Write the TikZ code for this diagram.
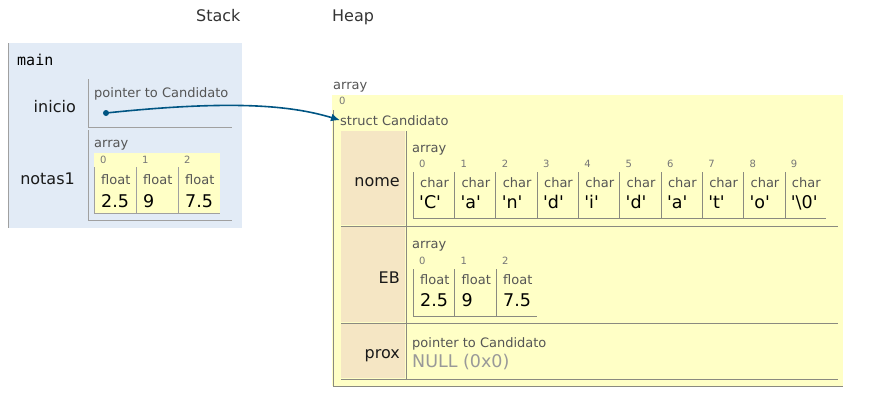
\documentclass[tikz,border=0pt]{standalone}
\usepackage{fontspec}
\setmainfont{DejaVu Sans}
\setmonofont{DejaVu Sans Mono}
\usetikzlibrary{arrows.meta}

\definecolor{stackblue}{HTML}{E2EBF6}
\definecolor{heapyellow}{HTML}{FFFFC6}
\definecolor{fieldtan}{HTML}{F5E6C4}
\definecolor{cellline}{HTML}{A0A0A0}
\definecolor{heapline}{HTML}{8A8A80}
\definecolor{typegray}{HTML}{555555}
\definecolor{idxgray}{HTML}{777777}
\definecolor{nullgray}{HTML}{999999}
\definecolor{ptrblue}{HTML}{005583}

\newcommand{\sq}{\textquotesingle}

\tikzset{
  txt/.style={inner sep=0pt, anchor=base west},
  title/.style={txt, font=\fontsize{16}{18}\selectfont, text=black!80},
  varname/.style={inner sep=0pt, anchor=base east, font=\fontsize{16}{18}\selectfont, text=black!90},
  typename/.style={txt, font=\fontsize{13}{15}\selectfont, text=typegray},
  idx/.style={txt, font=\fontsize{10}{11}\selectfont, text=idxgray},
  val/.style={txt, font=\fontsize{17.5}{20}\selectfont, text=black},
}

\begin{document}
\begin{tikzpicture}[x=1pt,y=-1pt]
\useasboundingbox (0,0) rectangle (896,410);

% Column titles
\node[title] (stacktitle) at (196,21) {Stack};
\node[title] (heaptitle) at (332,21) {Heap};

% Stack frame of main
\fill[stackblue] (8,43) rectangle (242,228);
\draw[cellline] (8,43) -- (8,228);
\node[txt, font=\ttfamily\fontsize{15}{17}\selectfont] (mainname) at (17,65) {main};

% inicio
\node[varname] (inicio) at (76,112) {inicio};
\draw[cellline] (88,79) -- (88,127) -- (232,127);
\node[typename] (iniciotype) at (94,97) {pointer to Candidato};
\node[circle, fill=ptrblue, inner sep=0pt, minimum size=6pt] (iniciodot) at (106,113) {};

% notas1
\node[varname] (notas1) at (75,184) {notas1};
\draw[cellline] (88,130) -- (88,220) -- (232,220);
\node[typename] (notas1type) at (94,147) {array};
\fill[heapyellow] (94,153) rectangle (220,213);
\foreach \i/\v in {0/2.5,1/9,2/7.5}{
  \draw[cellline] (94+42*\i,167) -- (94+42*\i,213);
  \node[idx] (notas1idx\i) at (100+42*\i,163) {\i};
  \node[typename] (notas1elem\i) at (101+42*\i,184) {float};
  \node[val] (notas1val\i) at (101+42*\i,207) {\v};
}
\draw[cellline] (94,213) -- (220,213);

% Heap object: array of struct Candidato
\node[typename] (heaparray) at (333,89) {array};
\fill[heapyellow] (332,95) rectangle (843,386);
\node[idx] (heapidx) at (339,104) {0};
\draw[heapline] (333,110) -- (333,386) -- (843,386);
\node[typename] (structname) at (340,125) {struct Candidato};

% Field rows
\fill[fieldtan] (341,131) rectangle (405,225);
\fill[fieldtan] (341,227) rectangle (405,322);
\fill[fieldtan] (341,324) rectangle (405,378);
\draw[heapline] (406.5,131) -- (406.5,379);
\draw[heapline] (341,226) -- (838,226);
\draw[heapline] (341,323) -- (838,323);
\draw[heapline] (341,379) -- (838,379);

% nome
\node[varname] (nome) at (400,186) {nome};
\node[typename] (nometype) at (412,152) {array};
\foreach \i/\v in {0/C,1/a,2/n,3/d,4/i,5/d,6/a,7/t,8/o,9/{\textbackslash0}}{
  \draw[heapline] (413+41.3*\i,172) -- (413+41.3*\i,218);
  \node[idx] (nomeidx\i) at (419+41.3*\i,167) {\i};
  \node[typename] (nomeelem\i) at (420+41.3*\i,187) {char};
  \node[val] (nomeval\i) at (419+41.3*\i,208) {\sq\v\sq};
}
\draw[heapline] (413,218) -- (826,218);

% EB
\node[varname] (eb) at (400,283) {EB};
\node[typename] (ebtype) at (412,248) {array};
\foreach \i/\v in {0/2.5,1/9,2/7.5}{
  \draw[heapline] (413+41.5*\i,269) -- (413+41.5*\i,316);
  \node[idx] (ebidx\i) at (419+41.5*\i,264) {\i};
  \node[typename] (ebelem\i) at (420+41.5*\i,284) {float};
  \node[val] (ebval\i) at (420+41.5*\i,306) {\v};
}
\draw[heapline] (413,316) -- (537,316);

% prox
\node[varname] (prox) at (400,358) {prox};
\node[typename] (proxtype) at (412,347) {pointer to Candidato};
\node[val, text=nullgray] (proxval) at (412,367) {NULL (0x0)};

% Pointer from inicio to the struct
\draw[ptrblue, line width=1.6pt, -{Latex[length=9pt,width=8pt]}]
  (iniciodot.center) .. controls (230,100) and (290,105) .. (structname.west);

\end{tikzpicture}
\end{document}
